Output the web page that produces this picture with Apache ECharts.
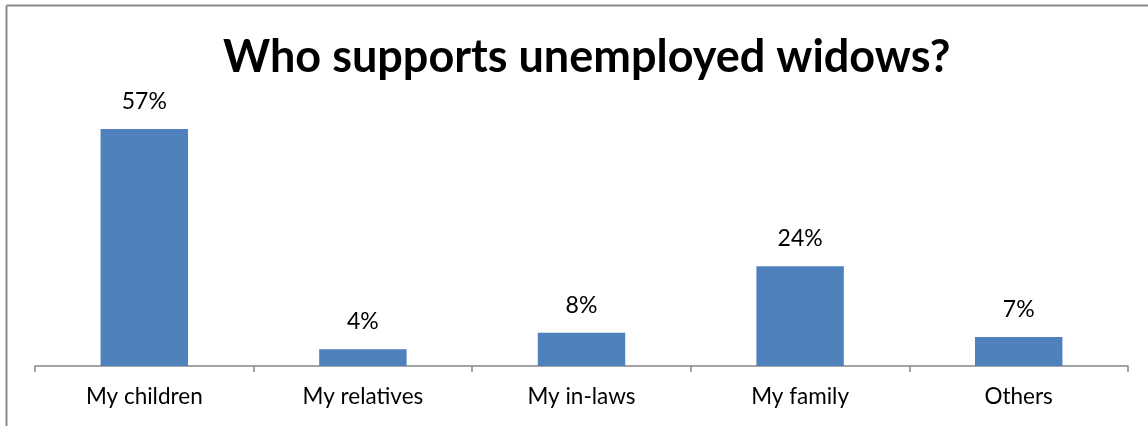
<!DOCTYPE html>
<html><head><meta charset="utf-8">
<script src="https://cdn.jsdelivr.net/npm/echarts@6/dist/echarts.min.js"></script>
<style>html,body{margin:0;padding:0;background:#fff}#c{width:1148px;height:426px}</style>
</head><body><div id="c"></div>
<script>
var categories = ['My children', 'My relatives', 'My in-laws', 'My family', 'Others'];
var values = [57, 4, 8, 24, 7];
var titleText = 'Who supports unemployed widows?';

var chart = echarts.init(document.getElementById('c'));
chart.setOption({
  animation: false,
  backgroundColor: '#fff',
  title: {
    text: titleText, left: 218, top: 30,
    textStyle: {fontFamily: 'Lato', fontWeight: 'bold', fontSize: 45, color: '#000'}
  },
  graphic: [
    {type: 'line', shape: {x1: 6.5, y1: 5.5, x2: 1148, y2: 5.5}, style: {stroke: '#898989', lineWidth: 2}},
    {type: 'line', shape: {x1: 6.5, y1: 5.5, x2: 6.5, y2: 426}, style: {stroke: '#898989', lineWidth: 2}}
  ],
  grid: {left: 35, right: 20, top: 116.5, bottom: 60},
  xAxis: {
    type: 'category', data: categories,
    axisLine: {lineStyle: {color: '#868686', width: 1.5}},
    axisTick: {show: true, length: 6, lineStyle: {color: '#868686', width: 1.5}},
    axisLabel: {fontFamily: 'Lato', fontSize: 22.5, color: '#000', margin: 19}
  },
  yAxis: {type: 'value', min: 0, max: 60, show: false, splitLine: {show: false}},
  series: [{
    type: 'bar', data: values, barWidth: '40%',
    itemStyle: {color: '#4f81bd'},
    label: {show: true, position: 'top', distance: 16, formatter: '{c}%', fontFamily: 'Lato', fontSize: 23, color: '#000'}
  }]
});
</script></body></html>
